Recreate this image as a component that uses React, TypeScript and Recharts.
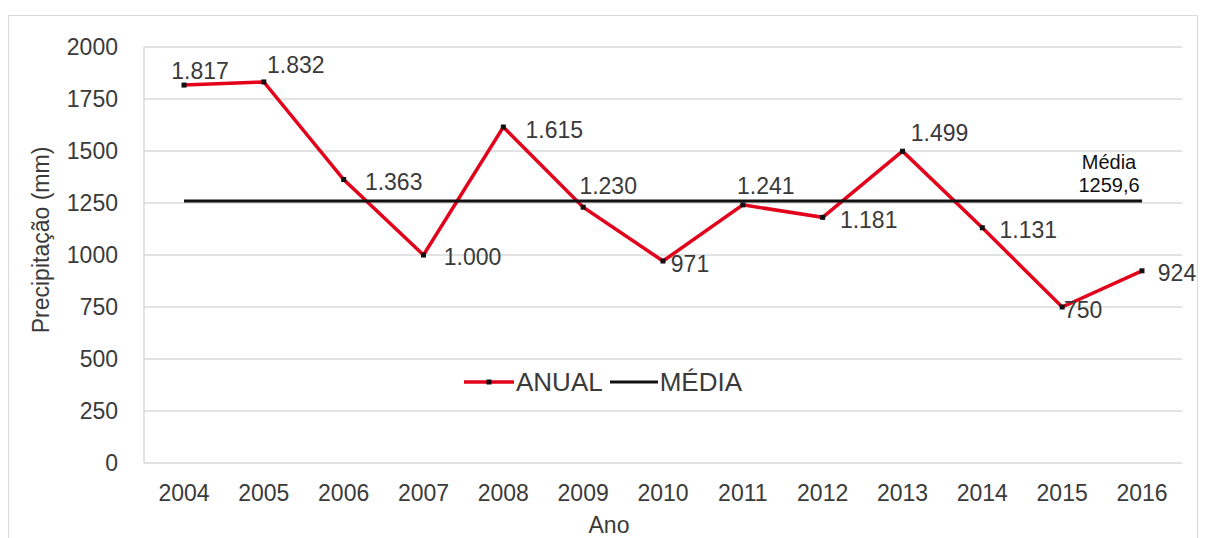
import React from 'react';
import {
  LineChart,
  Line,
  XAxis,
  YAxis,
  CartesianGrid,
  LabelList,
} from 'recharts';

const years = ['2004', '2005', '2006', '2007', '2008', '2009', '2010', '2011', '2012', '2013', '2014', '2015', '2016'];
const anual = [1817, 1832, 1363, 1000, 1615, 1230, 971, 1241, 1181, 1499, 1131, 750, 924];
const media = [1259.6, 1259.6, 1259.6, 1259.6, 1259.6, 1259.6, 1259.6, 1259.6, 1259.6, 1259.6, 1259.6, 1259.6, 1259.6];
const yTicks = [0, 250, 500, 750, 1000, 1250, 1500, 1750, 2000];

// where each value label sits relative to its point
const labelOffsets: [number, number][] = [
  [16, -14], [32, -17], [50, 3], [49, 2], [51, 3], [25, -21], [27, 3],
  [23, -19], [46, 3], [37, -18], [46, 2], [21, 3], [35, 2],
];

const data = years.map((y, i) => ({ ano: y, anual: anual[i], media: media[i] }));

const FONT = '"Liberation Sans", Arial, sans-serif';
const TXT = '#3a3a3a';

const fmt = (v: number) => {
  const s = String(Math.round(v));
  return s.length > 3 ? s.slice(0, s.length - 3) + '.' + s.slice(-3) : s;
};

const ValueLabel = (props: any) => {
  const { x, y, value, index } = props;
  const [dx, dy] = labelOffsets[index] || [0, 0];
  return (
    <text x={x + dx} y={y + dy} textAnchor="middle" dominantBaseline="central"
      fontSize={23} fill={TXT} fontFamily={FONT}>
      {fmt(value)}
    </text>
  );
};

const MediaLabel = (props: any) => {
  const { x, y, value, index } = props;
  if (index !== media.length - 1) return null;
  return (
    <g fontSize={20} fill="#111" fontFamily={FONT} textAnchor="middle">
      <text x={x - 33} y={y - 39} dominantBaseline="central">Média</text>
      <text x={x - 33} y={y - 16} dominantBaseline="central">{String(value).replace('.', ',')}</text>
    </g>
  );
};

const Dot = (props: any) => {
  const { cx, cy } = props;
  return <rect x={cx - 2.5} y={cy - 2.5} width={5} height={5} fill="#111" />;
};

export default function App() {
  return (
    <div style={{ position: 'relative', width: 1190, height: 530 }}>
      <div style={{ position: 'absolute', left: 0, top: 7, width: 1190, height: 540, border: '1px solid #d9d9d9', boxSizing: 'border-box' }} />
      <LineChart width={1190} height={530} data={data} margin={{ top: 39, right: 16, bottom: 0, left: 10 }}>
        <CartesianGrid vertical={false} stroke="#d9d9d9" strokeWidth={1.5} />
        <XAxis dataKey="ano" padding={{ left: 40, right: 40 }} axisLine={false} tickLine={false}
          tick={{ fontSize: 23, fill: TXT, fontFamily: FONT }} tickMargin={16} height={75} interval={0} />
        <YAxis domain={[0, 2000]} ticks={yTicks} width={126} tickLine={false}
          axisLine={{ stroke: '#d9d9d9', strokeWidth: 1.5 }} tickMargin={20}
          tick={{ fontSize: 23, fill: TXT, fontFamily: FONT }} />
        <YAxis yAxisId="r" orientation="right" width={0} tick={false} tickLine={false}
          axisLine={{ stroke: '#d9d9d9', strokeWidth: 1.5 }} />
        <Line dataKey="anual" name="ANUAL" stroke="#e3001b" strokeWidth={3.5} dot={<Dot />} activeDot={false}
          isAnimationActive={false}>
          <LabelList dataKey="anual" content={<ValueLabel />} />
        </Line>
        <Line dataKey="media" name="MÉDIA" stroke="#111" strokeWidth={3} dot={false} activeDot={false}
          isAnimationActive={false}>
          <LabelList dataKey="media" content={<MediaLabel />} />
        </Line>
      </LineChart>
      <div style={{ position: 'absolute', left: 456, top: 360, height: 28, display: 'flex', alignItems: 'center', fontFamily: FONT, fontSize: 26, color: TXT }}>
        <svg width={52} height={10}>
          <line x1={0} y1={5} x2={50} y2={5} stroke="#e3001b" strokeWidth={3.5} />
          <rect x={22.5} y={2.5} width={5} height={5} fill="#111" />
        </svg>
        <span style={{ marginRight: 7 }}>ANUAL</span>
        <svg width={50} height={10}>
          <line x1={0} y1={5} x2={48} y2={5} stroke="#111" strokeWidth={3} />
        </svg>
        <span>MÉDIA</span>
      </div>
      <div style={{ position: 'absolute', left: 33, top: 232, transform: 'translate(-50%, -50%) rotate(-90deg)', whiteSpace: 'nowrap', fontFamily: FONT, fontSize: 23, color: TXT }}>
        Precipitação (mm)
      </div>
      <div style={{ position: 'absolute', left: 601, top: 517, transform: 'translate(-50%, -50%)', fontFamily: FONT, fontSize: 23, color: TXT }}>
        Ano
      </div>
    </div>
  );
}
